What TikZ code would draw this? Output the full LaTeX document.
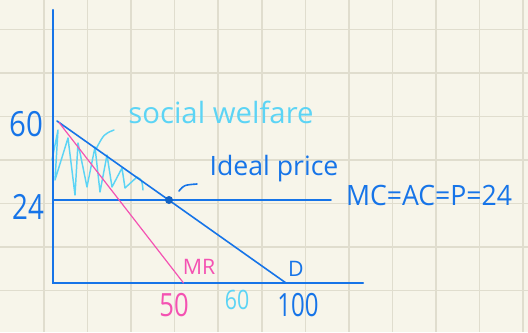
\documentclass[tikz,border=0pt]{standalone}
\usepackage{fontspec}
\setmainfont{Open Sans}
\definecolor{paper}{RGB}{247,245,234}
\definecolor{gridc}{RGB}{224,221,206}
\definecolor{inkblue}{RGB}{22,116,232}
\definecolor{inkcyan}{RGB}{92,212,245}
\definecolor{inkpink}{RGB}{244,82,178}
\tikzset{
  ax/.style={draw=inkblue,line width=1.6pt,line cap=round},
  bline/.style={draw=inkblue,line width=1.2pt,line cap=round},
  pline/.style={draw=inkpink,line width=0.9pt,line cap=round},
  cline/.style={draw=inkcyan,line width=1.1pt,line cap=round,line join=round},
  lab/.style={inner sep=0pt,font=\fontsize{#1}{#1}\selectfont},
}
\newcommand{\narrow}[2]{\scalebox{#1}[1]{#2}}
\begin{document}
\begin{tikzpicture}[x=0.75pt,y=-0.75pt]
\useasboundingbox (0,0) rectangle (528,332);
\fill[paper] (0,0) rectangle (528,332);
\foreach \i in {0,...,11} \draw[gridc,line width=1.2pt] ({44+43.55*\i},0) -- ({44+43.55*\i},332);
\foreach \j in {0,...,6} \draw[gridc,line width=1.2pt] (0,{29.5+43.5*\j}) -- (528,{29.5+43.5*\j});
% coordinates
\coordinate (O) at (53,283);
\coordinate (ytop) at (53,10);
\coordinate (xend) at (363,283);
\coordinate (d0) at (57,121);
\coordinate (d1) at (286,283);
\coordinate (m0) at (59,122.5);
\coordinate (m1) at (183.5,283);
\coordinate (mc0) at (53,200);
\coordinate (mc1) at (331,200);
% hatching
\draw[cline] (52,160) -- (58,130) -- (55,180) -- (68,138) -- (75,195) -- (78,143) -- (87,187) -- (95,147) -- (100,192) -- (107,155) -- (112,187) -- (122,168) -- (125,188) -- (137,177) .. controls (142,180) .. (143,190);
\draw[cline] (114,130) .. controls (104,134) .. (96,149);
% axes
\draw[ax] (ytop) -- (O) -- (xend);
\draw[bline] (mc0) -- (mc1);
\draw[bline] (d0) -- (d1);
\draw[pline] (m0) -- (m1);
\node[circle,fill=inkblue!85!black,inner sep=0pt,minimum size=6pt] (dot) at (169,200) {};
\coordinate (il0) at (179,191);
\coordinate (il1) at (197,184);
\draw[bline] (il0) .. controls (184,185) .. (il1);
% labels
\node[lab=26pt,text=inkblue] (l60) at (26,124) {\narrow{0.85}{60}};
\node[lab=26pt,text=inkblue] (l24) at (28,207) {\narrow{0.8}{24}};
\node[lab=22pt,text=inkcyan] (sw) at (221,112) {social welfare};
\node[lab=20pt,text=inkblue] (ip) at (274,169) {Ideal price};
\node[lab=21pt,text=inkblue] (mc) at (429,195) {\narrow{0.95}{MC=AC=P=24}};
\node[lab=16pt,text=inkpink] (mr) at (199,267) {MR};
\node[lab=16pt,text=inkblue] (D) at (296,269) {D};
\node[lab=24pt,text=inkpink] (l50) at (174,305) {\narrow{0.8}{50}};
\node[lab=20pt,text=inkcyan] (l60b) at (237,300) {\narrow{0.8}{60}};
\node[lab=24pt,text=inkblue] (l100) at (298,305) {\narrow{0.75}{100}};
\end{tikzpicture}
\end{document}
